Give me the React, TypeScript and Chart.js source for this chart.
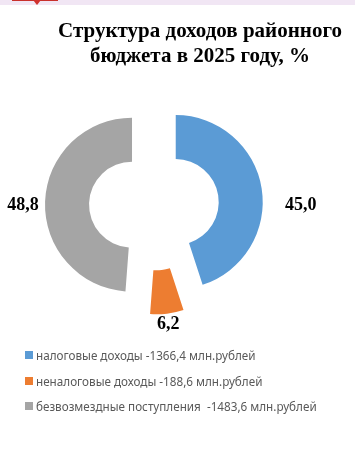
import React, { useEffect, useRef } from "react";
import { Chart, registerables } from "chart.js";

Chart.register(...registerables);

const categories: string[] = [
  "налоговые доходы -1366,4 млн.рублей",
  "неналоговые доходы -188,6 млн.рублей",
  "безвозмездные поступления  -1483,6 млн.рублей",
];
const shares: number[] = [45.0, 6.2, 48.8];
const colors: string[] = ["#5B9BD5", "#ED7D31", "#A5A5A5"];
const titleLines: string[] = ["Структура доходов районного", "бюджета в 2025 году, %"];

// explosion distance of every slice, px
const explode = 22;
// extra distance of each value label beyond the slice's outer edge
const labelPad: number[] = [38, 11, 22];

const explodeSlices = {
  id: "explodeSlices",
  afterDatasetUpdate(chart: any, args: any) {
    const meta = args.meta || chart.getDatasetMeta(args.index);
    meta.data.forEach((arc: any) => {
      const mid = (arc.startAngle + arc.endAngle) / 2;
      arc.x += Math.cos(mid) * explode;
      arc.y += Math.sin(mid) * explode;
    });
  },
};

const valueLabels = {
  id: "valueLabels",
  afterDatasetsDraw(chart: any) {
    const ctx = chart.ctx;
    const meta = chart.getDatasetMeta(0);
    const data = chart.data.datasets[0].data as number[];
    const cy = (chart.chartArea.top + chart.chartArea.bottom) / 2;
    ctx.save();
    ctx.font = "bold 18px 'Liberation Serif', 'Times New Roman', serif";
    ctx.fillStyle = "#000";
    ctx.textAlign = "center";
    ctx.textBaseline = "middle";
    meta.data.forEach((arc: any, i: number) => {
      const p = arc.getProps(["x", "y", "startAngle", "endAngle", "outerRadius"], true);
      const mid = (p.startAngle + p.endAngle) / 2;
      const c = Math.cos(mid);
      const s = Math.sin(mid);
      const d = p.outerRadius + labelPad[i];
      let lx: number, ly: number;
      if (Math.abs(c) > Math.abs(s)) {
        lx = p.x + Math.sign(c) * d;
        ly = cy;
      } else {
        lx = p.x + c * d;
        ly = p.y + s * d;
      }
      ctx.fillText(data[i].toFixed(1).replace(".", ","), lx, ly);
    });
    ctx.restore();
  },
};

export default function App() {
  const ref = useRef<HTMLCanvasElement | null>(null);
  useEffect(() => {
    document.body.style.margin = "0";
    if (!ref.current) return;
    const chart = new Chart(ref.current, {
      type: "doughnut",
      data: {
        labels: categories,
        datasets: [
          {
            data: shares,
            backgroundColor: colors,
            borderWidth: 0,
            hoverOffset: 0,
          },
        ],
      },
      options: {
        responsive: false,
        animation: false,
        radius: 87,
        cutout: "49.4%",
        layout: { padding: { left: 0, right: 47, top: 0, bottom: 59 } },
        plugins: {
          title: { display: false },
          tooltip: { enabled: false },
          legend: { display: false },
        },
      },
      plugins: [explodeSlices, valueLabels],
    });
    return () => chart.destroy();
  }, []);

  return (
    <div style={{ position: "relative", width: 355, height: 470, background: "#fff", overflow: "hidden" }}>
      <div style={{ position: "absolute", left: 0, top: 0, width: 355, height: 5, background: "#F1E6F4" }} />
      <div style={{ position: "absolute", left: 12, top: 0, width: 46, height: 1, background: "#C9302C" }} />
      <div
        style={{
          position: "absolute",
          left: 33,
          top: 0,
          width: 0,
          height: 0,
          borderLeft: "4px solid transparent",
          borderRight: "4px solid transparent",
          borderTop: "5px solid #D0312D",
        }}
      />
      <canvas ref={ref} width={355} height={470} style={{ position: "absolute", left: 0, top: 0 }} />
      <div
        style={{
          position: "absolute",
          left: 45,
          top: 18,
          width: 310,
          textAlign: "center",
          fontFamily: "'Liberation Serif', 'Times New Roman', serif",
          fontWeight: "bold",
          fontSize: 21,
          lineHeight: "25px",
          color: "#000",
        }}
      >
        {titleLines.map((t, i) => (
          <div key={i}>{t}</div>
        ))}
      </div>
      <div
        style={{
          position: "absolute",
          left: 25,
          top: 342.5,
          fontFamily: "'Noto Sans', sans-serif",
          fontSize: 11.7,
          color: "#595959",
        }}
      >
        {categories.map((t, i) => (
          <div key={i} style={{ display: "flex", alignItems: "center", height: 25.5, whiteSpace: "pre" }}>
            <span style={{ display: "inline-block", width: 8, height: 8, background: colors[i], marginRight: 3 }} />
            <span>{t}</span>
          </div>
        ))}
      </div>
    </div>
  );
}
